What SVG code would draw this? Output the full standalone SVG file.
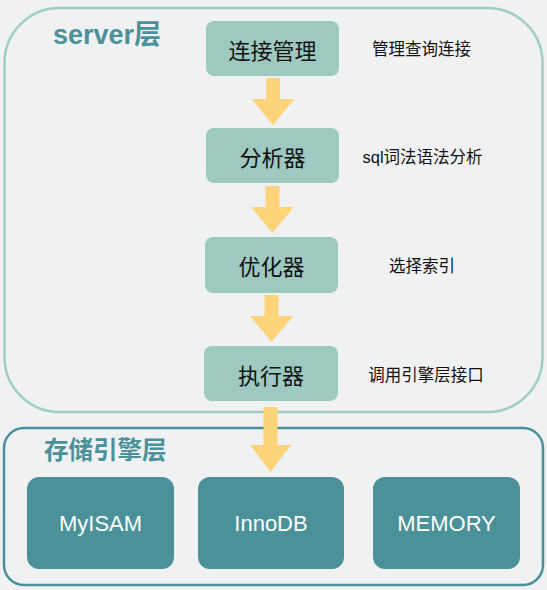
<svg xmlns="http://www.w3.org/2000/svg" width="547" height="590" viewBox="0 0 547 590">
<defs>
<style>
.bg{fill:#eff1f3}
.layer1{fill:none;stroke:#a1cdc4;stroke-width:2.5}
.layer2{fill:none;stroke:#4a9199;stroke-width:2.5}
.n{fill:#9dc9c0}
.e{fill:#4a9199}
.nt{font-family:"Noto Sans CJK SC","Noto Sans",sans-serif;font-size:22px;fill:#111;text-anchor:middle;dominant-baseline:central}
.st{font-family:"Liberation Sans","Noto Sans CJK SC",sans-serif;font-size:16.5px;fill:#111;text-anchor:middle;dominant-baseline:central}
.tt{font-family:"Liberation Sans","Noto Sans CJK SC",sans-serif;font-weight:bold;fill:#4a9199}
.et{font-family:"Liberation Sans",Arial,sans-serif;font-size:22px;fill:#fff;text-anchor:middle;dominant-baseline:central}
.ar{fill:#fdd47a}
</style>
</defs>
<rect class="bg" x="0" y="0" width="547" height="590"/>
<g id="server-layer">
<rect class="layer1" x="4.5" y="8" width="538" height="404" rx="55"/>
<text class="tt" x="53" y="44" font-size="27">server层</text>
</g>
<g id="storage-layer">
<rect class="layer2" x="4" y="428" width="539" height="157" rx="20"/>
<text class="tt" x="44" y="459" font-size="24.5">存储引擎层</text>
</g>
<g id="connectors">
<polygon class="ar" points="266,78 280,78 280,99 294.5,99 273,125 251.5,99 266,99"/>
<polygon class="ar" points="265.5,186 279.5,186 279.5,207 294,207 272.5,233 251,207 265.5,207"/>
<polygon class="ar" points="264.5,295 278.5,295 278.5,316 293,316 271.5,342 250,316 264.5,316"/>
<polygon class="ar" points="263.5,407 277.5,407 277.5,445 291,445 270.5,472 250,445 263.5,445"/>
</g>
<g id="node-connect">
<rect class="n" x="206" y="21" width="133" height="55" rx="8"/>
<text class="nt" x="272.5" y="48.5">连接管理</text>
<text class="st" x="421.5" y="49">管理查询连接</text>
</g>
<g id="node-analyzer">
<rect class="n" x="206" y="128" width="133" height="55" rx="8"/>
<text class="nt" x="272.5" y="155.5">分析器</text>
<text class="st" x="422.5" y="157">sql词法语法分析</text>
</g>
<g id="node-optimizer">
<rect class="n" x="205" y="237" width="133" height="56" rx="8"/>
<text class="nt" x="271.5" y="265">优化器</text>
<text class="st" x="422" y="266">选择索引</text>
</g>
<g id="node-executor">
<rect class="n" x="204" y="346" width="134" height="55" rx="8"/>
<text class="nt" x="271" y="373.5">执行器</text>
<text class="st" x="426" y="375">调用引擎层接口</text>
</g>
<g id="engine-myisam">
<rect class="e" x="27" y="477" width="147" height="92" rx="12"/>
<text class="et" x="100.5" y="523.5">MyISAM</text>
</g>
<g id="engine-innodb">
<rect class="e" x="198" y="477" width="146" height="92" rx="12"/>
<text class="et" x="271" y="523.5">InnoDB</text>
</g>
<g id="engine-memory">
<rect class="e" x="373" y="477" width="147" height="92" rx="12"/>
<text class="et" x="446.5" y="523.5">MEMORY</text>
</g>
</svg>
